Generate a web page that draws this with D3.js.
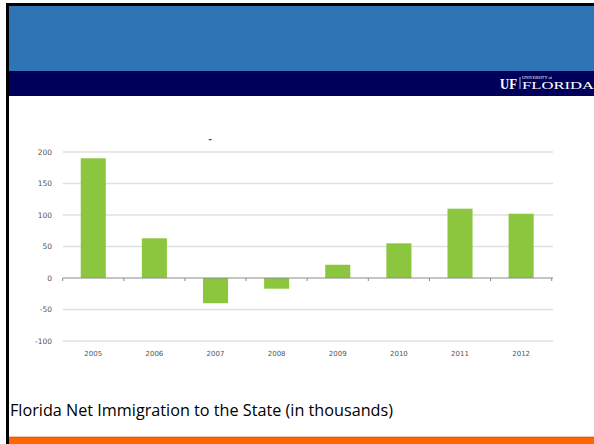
<!DOCTYPE html>
<html><head><meta charset="utf-8">
<script src="https://cdn.jsdelivr.net/npm/d3@7"></script>
<style>html,body{margin:0;padding:0;background:#fff;}svg{display:block;}</style>
</head><body>
<svg id="c" width="594" height="444"></svg>
<script>
const years = ["2005","2006","2007","2008","2009","2010","2011","2012"];
const netImmigration = [190, 63, -40, -17, 21, 55, 110, 102];
const yTicks = [-100, -50, 0, 50, 100, 150, 200];
const caption = "Florida Net Immigration to the State (in thousands)";

const svg = d3.select("#c");
// slide background
svg.append("rect").attr("x",0).attr("y",0).attr("width",594).attr("height",444).attr("fill","#fff");
svg.append("rect").attr("x",6).attr("y",3).attr("width",588).attr("height",441).attr("fill","#000");
svg.append("rect").attr("x",9).attr("y",6).attr("width",585).attr("height",438).attr("fill","#fff");
svg.append("rect").attr("x",9).attr("y",6).attr("width",585).attr("height",65).attr("fill","#2e75b6");
svg.append("rect").attr("x",9).attr("y",71).attr("width",585).attr("height",25).attr("fill","#00005a");
svg.append("rect").attr("x",9).attr("y",437).attr("width",585).attr("height",7).attr("fill","#ff6600");
svg.append("line").attr("x1",9).attr("x2",594).attr("y1",437).attr("y2",437).attr("stroke","#b34700").attr("stroke-width",0.6);

// UF logo
svg.append("text").attr("x",500).attr("y",88.5).attr("fill","#fff").attr("font-family","Liberation Serif")
  .attr("font-weight","bold").attr("font-size",15).attr("textLength",17).attr("lengthAdjust","spacingAndGlyphs").text("UF");
svg.append("line").attr("x1",520).attr("x2",520).attr("y1",77).attr("y2",89).attr("stroke","#fff").attr("stroke-width",0.7);
svg.append("text").attr("x",522).attr("y",79).attr("fill","#fff").attr("font-family","Liberation Serif")
  .attr("font-size",4.2).attr("textLength",30).attr("lengthAdjust","spacingAndGlyphs").text("UNIVERSITY of");
svg.append("text").attr("x",522).attr("y",89).attr("fill","#fff").attr("font-family","Liberation Serif")
  .attr("font-size",9.5).attr("textLength",72).attr("lengthAdjust","spacingAndGlyphs").text("FLORIDA");

// chart
const x = d3.scaleBand().domain(years).range([62.7, 551.7]).paddingInner(0.59).paddingOuter(0.295);
const xb = d3.scaleBand().domain(years).range([62.7, 551.7]);
const y = d3.scaleLinear().domain([-100, 200]).range([341, 152]);

const g = svg.append("g");
g.selectAll("line.grid").data(yTicks.filter(d=>d!==0)).join("line")
  .attr("x1",62.7).attr("x2",553).attr("y1",d=>y(d)).attr("y2",d=>y(d))
  .attr("stroke","#e0e0e0").attr("stroke-width",1.3);

g.selectAll("rect.bar").data(netImmigration).join("rect")
  .attr("x",(d,i)=>x(years[i])).attr("width",x.bandwidth())
  .attr("y",d=>y(Math.max(0,d))).attr("height",d=>Math.abs(y(d)-y(0)))
  .attr("fill","#8cc63f");

// zero axis
g.append("line").attr("x1",62.7).attr("x2",553).attr("y1",y(0)).attr("y2",y(0)).attr("stroke","#8a8a8a").attr("stroke-width",1.2);
const tickPos = xb.domain().map(d=>xb(d)).concat([551.7]);
g.selectAll("line.tk").data(tickPos).join("line")
  .attr("x1",d=>d).attr("x2",d=>d).attr("y1",y(0)).attr("y2",y(0)+3)
  .attr("stroke","#8a8a8a").attr("stroke-width",1);

// y labels
g.selectAll("text.yl").data(yTicks).join("text")
  .attr("x",52).attr("y",d=>y(d)).attr("dy","0.35em").attr("text-anchor","end")
  .attr("font-family","DejaVu Sans").attr("font-size",7.5).attr("fill","#555")
  .text(d=>d);

// x labels
g.selectAll("text.xl").data(years).join("text")
  .attr("x",d=>x(d)+x.bandwidth()/2).attr("y",356).attr("text-anchor","middle")
  .attr("font-family","DejaVu Sans").attr("font-size",7).attr("fill","#555")
  .text(d=>d);

// small title remnant
svg.append("text").attr("x",210).attr("y",142).attr("text-anchor","middle").attr("font-family","DejaVu Sans")
  .attr("font-size",9).attr("font-weight","bold").attr("fill","#1f4e5a").text("-");

// caption
svg.append("text").attr("x",10).attr("y",416).attr("font-family","Open Sans").attr("font-size",16.5)
  .attr("fill","#000").attr("textLength",383).attr("lengthAdjust","spacingAndGlyphs").text(caption);
</script>
</body></html>
